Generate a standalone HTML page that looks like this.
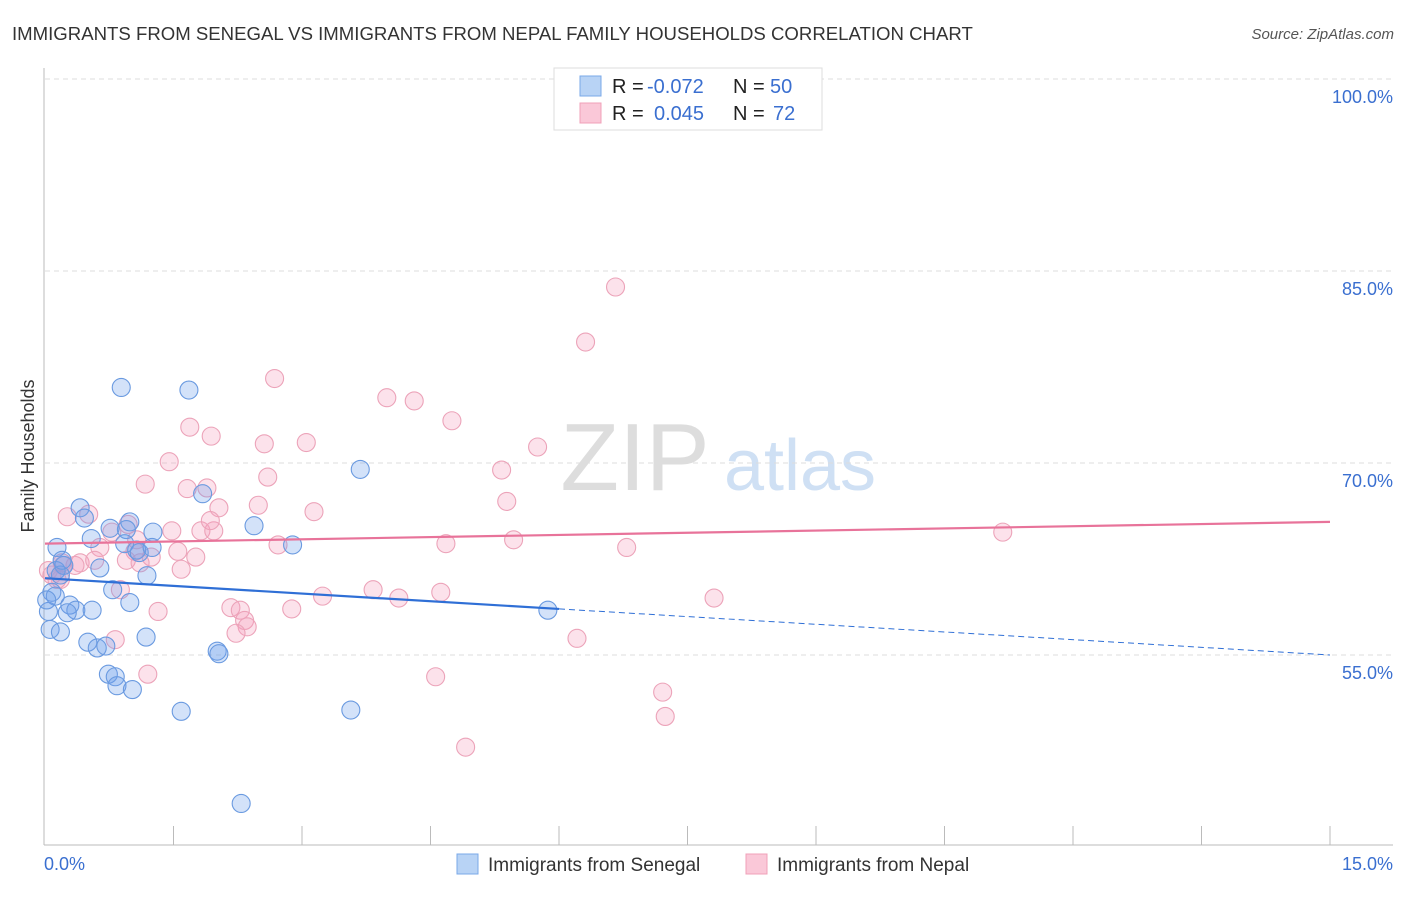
<!DOCTYPE html>
<html><head><meta charset="utf-8"><style>
body{margin:0;background:#fff;font-family:"Liberation Sans",sans-serif;}
svg text{font-family:"Liberation Sans",sans-serif;}
</style></head><body>
<svg id="chart" width="1406" height="892" xmlns="http://www.w3.org/2000/svg">
<text x="12" y="40" font-size="18.6" fill="#333">IMMIGRANTS FROM SENEGAL VS IMMIGRANTS FROM NEPAL FAMILY HOUSEHOLDS CORRELATION CHART</text>
<text x="1394" y="39" font-size="15" fill="#555" font-style="italic" text-anchor="end">Source: ZipAtlas.com</text>
<g>
<text x="635" y="490" font-size="96" fill="#ddd" font-family="Liberation Serif" text-anchor="middle">ZIP</text>
<text x="800" y="490" font-size="72" fill="#cfe0f4" text-anchor="middle">atlas</text>
</g>
<g id="grid"></g>
<g id="axes"></g>
<g id="points"></g>
<g id="trends"></g>
<text transform="translate(34,456) rotate(-90)" font-size="18" fill="#333" text-anchor="middle">Family Households</text>
<text x="44" y="870" font-size="18" fill="#3a6fd0">0.0%</text>
<text x="1393" y="870" font-size="18" fill="#3a6fd0" text-anchor="end">15.0%</text>
<g font-size="20">
<rect x="554" y="68" width="268" height="62" fill="#fff" stroke="#ddd"/>
<rect x="580" y="76" width="21" height="20" fill="#b8d3f5" stroke="#7aa8e8"/>
<rect x="580" y="103" width="21" height="20" fill="#fac8d8" stroke="#f0a0b8"/>
<text x="612" y="93" fill="#222">R =</text>
<text x="647" y="93" fill="#3a6fd0">-0.072</text>
<text x="733" y="93" fill="#222">N =</text>
<text x="770" y="93" fill="#3a6fd0">50</text>
<text x="612" y="120" fill="#222">R =</text>
<text x="654" y="120" fill="#3a6fd0">0.045</text>
<text x="733" y="120" fill="#222">N =</text>
<text x="773" y="120" fill="#3a6fd0">72</text>
</g>
<g>
<rect x="457" y="854" width="21" height="20" fill="#b8d3f5" stroke="#7aa8e8"/>
<text x="488" y="871" font-size="19" fill="#333">Immigrants from Senegal</text>
<rect x="746" y="854" width="21" height="20" fill="#fac8d8" stroke="#f0a0b8"/>
<text x="777" y="871" font-size="19" fill="#333">Immigrants from Nepal</text>
</g>
</svg>
<script>
const yTicks=[100,85,70,55];
const yTickLabels=["100.0%","85.0%","70.0%","55.0%"];
const senegalX=[0.89,1.68,3.68,2.44,2.89,1.84,0.41,0.46,0.99,0.95,1.26,0.54,0.14,0.93,1.07,1.10,0.64,0.22,0.13,0.18,1.19,0.08,0.12,0.29,0.36,0.55,0.26,0.99,0.79,0.04,0.06,1.18,0.50,0.61,0.71,2.01,2.03,0.74,0.82,0.84,1.02,1.59,3.57,2.29,5.87,0.20,0.02,0.76,1.25,0.18];
const senegalY=[75.9,75.7,69.5,65.1,63.6,67.6,66.5,65.7,65.4,64.8,64.6,64.1,63.4,63.7,63.2,63.0,61.8,62.0,61.6,61.25,61.2,59.9,59.6,58.9,58.5,58.5,58.3,59.1,60.1,58.4,57.0,56.4,56.0,55.55,55.7,55.3,55.1,53.5,53.3,52.6,52.3,50.6,50.7,43.4,58.5,62.4,59.3,64.9,63.4,56.8];
const nepalX=[6.66,6.31,2.68,3.99,4.31,4.75,1.69,1.94,2.56,3.05,5.75,1.45,2.60,5.33,1.17,1.66,1.89,2.49,3.14,5.39,2.03,0.26,0.51,0.97,1.48,1.82,1.97,4.68,5.47,6.79,2.72,0.64,1.05,1.55,1.76,1.24,0.95,1.11,0.41,0.20,1.59,0.35,0.04,0.08,0.18,3.83,4.13,4.62,3.24,2.88,1.32,2.17,2.28,2.33,2.36,2.23,0.88,7.81,6.21,0.82,1.20,4.56,7.21,7.24,4.91,11.18,0.21,0.78,0.14,0.58,1.93,1.07];
const nepalY=[83.75,79.45,76.6,75.1,74.85,73.3,72.8,72.1,71.5,71.6,71.25,70.1,68.9,69.45,68.35,68.0,68.05,66.7,66.2,67.0,66.5,65.8,66.0,65.2,64.7,64.7,64.7,63.7,64.0,63.4,63.6,63.4,63.1,63.1,62.65,62.65,62.4,62.2,62.2,62.2,61.7,62.0,61.6,61.25,60.9,60.1,59.45,59.9,59.6,58.6,58.4,58.7,58.5,57.7,57.2,56.7,60.1,59.45,56.3,56.2,53.5,53.3,52.1,50.2,47.8,64.6,62.0,64.6,60.9,62.4,65.5,64.0];
const senegalTrend=[61.0,55.0];
const senegalSolidEnd=6.0;
const nepalTrend=[63.7,65.4];

const NS="http://www.w3.org/2000/svg";
const X0=45,X1=1330;
function xs(v){return X0+(v/15)*(X1-X0);}
function ys(v){return 79+(100-v)*12.8;}
function mk(tag,attrs,parent){const e=document.createElementNS(NS,tag);for(const k in attrs)e.setAttribute(k,attrs[k]);parent.appendChild(e);return e;}
const grid=document.getElementById('grid'),axes=document.getElementById('axes'),pts=document.getElementById('points'),tr=document.getElementById('trends');
yTicks.forEach((t,i)=>{
 const l=mk('line',{x1:X0,x2:1393,y1:ys(t),y2:ys(t),stroke:'#ddd','stroke-dasharray':'5,4'},grid);
 
 
 const tx=mk('text',{x:1393,y:ys(t)+24,'font-size':18,fill:'#3a6fd0','text-anchor':'end'},grid);
 tx.textContent=yTickLabels[i];
 
 
});
const ax=mk('line',{x1:44,x2:44,y1:68,y2:845,stroke:'#bbb'},axes);


const bx=mk('line',{x1:44,x2:1393,y1:845,y2:845,stroke:'#bbb'},axes);


for(let i=1;i<=10;i++){
 const t=mk('line',{x1:xs(i*1.5),x2:xs(i*1.5),y1:826,y2:845,stroke:'#bbb'},axes);
 
 
}
function drawPts(X,Y,fill,stroke,name){
 X.forEach((v,i)=>{
  const c=mk('circle',{cx:xs(v),cy:ys(Y[i]),r:9,fill:fill,stroke:stroke,'stroke-width':1.1},pts);
  
  
 });
}
drawPts(nepalX,nepalY,'rgba(245,160,190,0.3)','#eca3b9','nepal-point');
drawPts(senegalX,senegalY,'rgba(110,160,235,0.3)','#6a9ae0','senegal-point');
function lerp(a,x){return a[0]+(a[1]-a[0])*x/15;}
const b1=mk('line',{x1:xs(0),y1:ys(senegalTrend[0]),x2:xs(senegalSolidEnd),y2:ys(lerp(senegalTrend,senegalSolidEnd)),stroke:'#2f6fd6','stroke-width':2.2},tr);


const b2=mk('line',{x1:xs(senegalSolidEnd),y1:ys(lerp(senegalTrend,senegalSolidEnd)),x2:xs(15),y2:ys(senegalTrend[1]),stroke:'#2f6fd6','stroke-width':1,'stroke-dasharray':'6,4'},tr);


const p1=mk('line',{x1:xs(0),y1:ys(nepalTrend[0]),x2:xs(15),y2:ys(nepalTrend[1]),stroke:'#e8739a','stroke-width':2.2},tr);


</script>
</body></html>
